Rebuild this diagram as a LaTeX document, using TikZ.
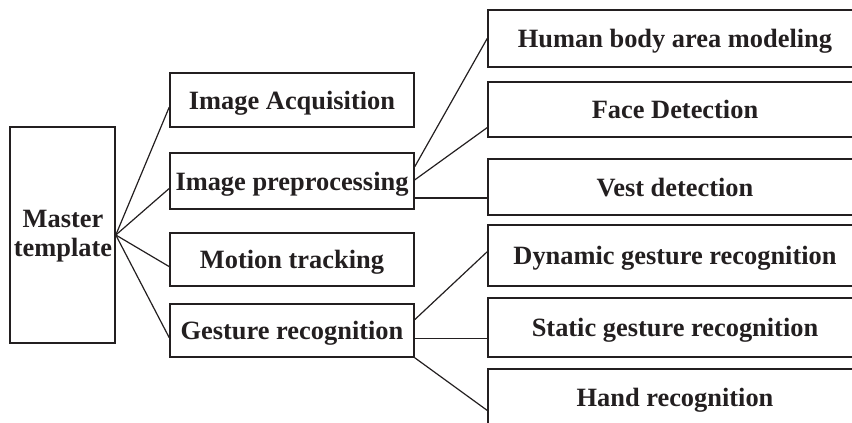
\documentclass[tikz,border=0pt]{standalone}
\usepackage{fontspec}
\setmainfont{Liberation Serif}
\usetikzlibrary{calc}

\definecolor{ink}{HTML}{231F20}

\tikzset{
  box/.style={draw=ink, line width=1.6pt, rectangle, inner sep=0pt,
    text=ink, font=\fontsize{26.4}{29}\selectfont\bfseries,
    text height=18pt, text depth=0pt},
  leftbox/.style={box, minimum width=244pt},
  rightbox/.style={box, minimum width=374pt},
  link/.style={draw=ink, line width=1.2pt}
}

\begin{document}
\begin{tikzpicture}[x=1pt, y=-1pt]
  \useasboundingbox (0,0) rectangle (852,423);
  \clip (0,0) rectangle (852,423);

  % root
  \node[box, minimum width=105pt, minimum height=216pt] (master) at (62.5,235) {};
  \node[text=ink, font=\fontsize{26.4}{29}\selectfont\bfseries, align=center, inner sep=0pt]
    (mastertext) at (63,236) {Master\\template};

  % first level
  \node[leftbox, minimum height=54pt] (acq) at (292,100)   {Image Acquisition};
  \node[leftbox, minimum height=56pt] (pre) at (292,181)   {Image preprocessing};
  \node[leftbox, minimum height=53pt] (mot) at (292,259.5) {Motion tracking};
  \node[leftbox, minimum height=53pt] (ges) at (292,330.5) {Gesture recognition};

  % second level
  \node[rightbox, minimum height=57pt] (hum)  at (675,38.5)  {Human body area modeling};
  \node[rightbox, minimum height=55pt] (face) at (675,109.5) {Face Detection};
  \node[rightbox, minimum height=56pt] (vest) at (675,187)   {Vest detection};
  \node[rightbox, minimum height=61pt] (dyn)  at (675,255.5) {Dynamic gesture recognition};
  \node[rightbox, minimum height=59pt] (stat) at (675,327.5) {Static gesture recognition};
  \node[rightbox, minimum height=57pt] (hand) at (675,397.5) {Hand recognition};

  % root to first level
  \foreach \b in {acq,pre,mot,ges}
    \draw[link] (master.east) -- ($(\b.north west)!0.63!(\b.south west)$);

  % preprocessing branch
  \draw[link] ($(pre.north east)!0.25!(pre.south east)$) -- ($(hum.north west)!0.5!(hum.south west)$);
  \draw[link] ($(pre.north east)!0.48!(pre.south east)$) -- ($(face.north west)!0.82!(face.south west)$);
  \coordinate (vestin) at ($(vest.north west)!0.69!(vest.south west)$);
  \draw[link] (pre.east |- vestin) -- (vestin);

  % gesture branch
  \draw[link] ($(ges.north east)!0.3!(ges.south east)$) -- ($(dyn.north west)!0.44!(dyn.south west)$);
  \coordinate (statin) at ($(stat.north west)!0.68!(stat.south west)$);
  \draw[link] (ges.east |- statin) -- (statin);
  \draw[link] (ges.south east) -- ($(hand.north west)!0.72!(hand.south west)$);
\end{tikzpicture}
\end{document}
